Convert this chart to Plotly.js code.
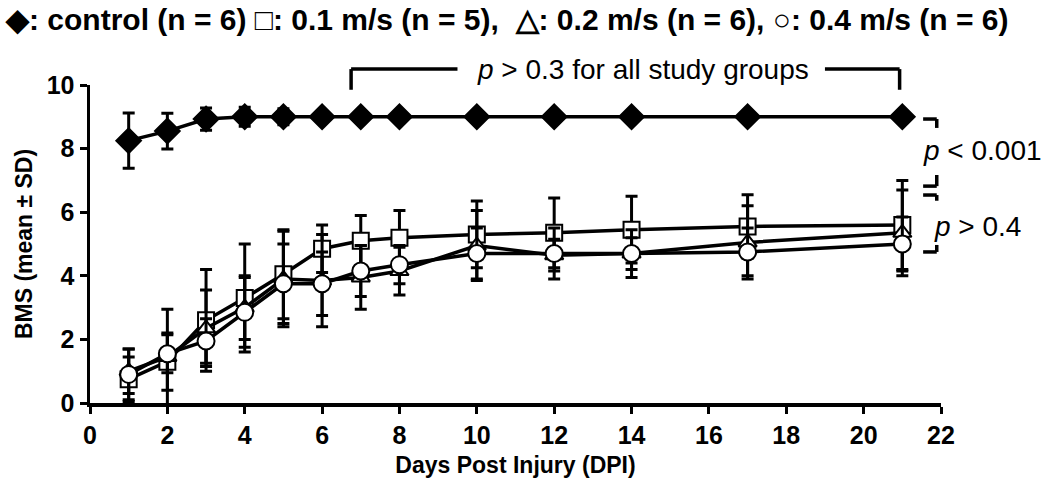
<!DOCTYPE html>
<html><head><meta charset="utf-8">
<script src="https://cdn.plot.ly/plotly-3.0.1.min.js"></script>
<style>body{margin:0;background:#fff}#chart{width:1043px;height:482px}</style>
</head><body><div id="chart"></div>
<script>
const days = [1,2,3,4,5,6,7,8,10,12,14,17,21];
const controlMean = [8.25,8.55,8.93,9.0,9.0,9.0,9,9,9,9,9,9,9];
const controlSD   = [0.87,0.56,0.35,0.3,0.25,0.15,0,0,0,0,0,0,0];
const v01Mean = [0.75,1.3,2.6,3.3,4.05,4.85,5.1,5.2,5.3,5.35,5.45,5.55,5.6];
const v01SD   = [0.7,0.9,1.6,1.7,1.4,0.75,0.8,0.85,1.05,1.1,1.05,1.0,1.4];
const v02Mean = [1.0,1.45,2.35,3.0,3.9,3.85,3.95,4.15,4.95,4.65,4.7,5.05,5.35];
const v02SD   = [0.7,1.5,1.2,1.0,1.5,1.45,1.0,0.75,1.1,0.5,0.5,1.15,1.35];
const v04Mean = [0.9,1.55,1.95,2.85,3.75,3.75,4.15,4.35,4.7,4.7,4.7,4.75,5.0];
const v04SD   = [0.8,0.6,0.7,1.1,1.25,1.0,0.8,0.6,0.8,0.8,0.75,0.75,0.85];
const groupNames = ['control (n = 6)','0.1 m/s (n = 5)','0.2 m/s (n = 6)','0.4 m/s (n = 6)'];
const xTicks = [0,2,4,6,8,10,12,14,16,18,20,22];
const yTicks = [0,2,4,6,8,10];
const pTop = 'p > 0.3 for all study groups';
const pCtrl = 'p < 0.001';
const pGroups = 'p > 0.4';

const BOLD = '"Liberation Sans", Arial, sans-serif';
const REG = '"Liberation Sans", Arial, sans-serif';

function trace(y, sd, symbol, fill, size, name){
  return {x: days, y: y, name: name, type:'scatter', mode:'lines+markers',
    line:{color:'#000', width:3.5},
    marker:{symbol:symbol, size:size, color:fill, line:{color:'#000', width:2}},
    error_y:{type:'data', array: sd, visible:true, color:'#000', thickness:3, width:6},
    cliponaxis:false, showlegend:false};
}
const data = [
  trace(v01Mean, v01SD, 'square', '#fff', 16, groupNames[1]),
  trace(v02Mean, v02SD, 'triangle-up', '#fff', 16, groupNames[2]),
  trace(v04Mean, v04SD, 'circle', '#fff', 17, groupNames[3]),
  trace(controlMean, controlSD, 'diamond', '#000', 19, groupNames[0])
];

const legendText = '◆: ' + groupNames[0] + ' □: ' + groupNames[1] + ',\u00a0\u00a0△: ' + groupNames[2] + ', ○: ' + groupNames[3];
function italicP(s){ return s.replace(/^p/, '<i>p</i>'); }

const ln = {color:'#000', width:3.5};
const shapes = [
  // top bracket
  {type:'line', xref:'x', yref:'paper', x0:6.75, x1:6.75, y0:0.985, y1:1.05, line:ln},
  {type:'line', xref:'x', yref:'paper', x0:6.75, x1:9.5, y0:1.05, y1:1.05, line:ln},
  {type:'line', xref:'x', yref:'paper', x0:19.0, x1:20.93, y0:1.05, y1:1.05, line:ln},
  {type:'line', xref:'x', yref:'paper', x0:20.93, x1:20.93, y0:0.985, y1:1.05, line:ln},
  // right brackets (p<0.001)
  {type:'line', xref:'paper', yref:'y', x0:0.995, x1:0.995, y0:8.65, y1:8.93, line:ln},
  {type:'line', xref:'paper', yref:'y', x0:0.979, x1:0.995, y0:8.93, y1:8.93, line:ln},
  {type:'line', xref:'paper', yref:'y', x0:0.995, x1:0.995, y0:6.82, y1:7.17, line:ln},
  {type:'line', xref:'paper', yref:'y', x0:0.979, x1:0.995, y0:6.82, y1:6.82, line:ln},
  // p>0.4
  {type:'line', xref:'paper', yref:'y', x0:0.979, x1:0.995, y0:6.54, y1:6.54, line:ln},
  {type:'line', xref:'paper', yref:'y', x0:0.995, x1:0.995, y0:6.36, y1:6.54, line:ln},
  {type:'line', xref:'paper', yref:'y', x0:0.995, x1:0.995, y0:4.75, y1:4.97, line:ln},
  {type:'line', xref:'paper', yref:'y', x0:0.979, x1:0.995, y0:4.75, y1:4.75, line:ln}
];

const annotations = [
  {text: legendText, xref:'paper', yref:'paper', x:-0.102, y:1.205, xanchor:'left', yanchor:'middle', showarrow:false,
   font:{family:BOLD, size:30, color:'#000', weight:'bold'}},
  {text: italicP(pTop), xref:'x', yref:'paper', x:14.3, y:1.05, xanchor:'center', yanchor:'middle', showarrow:false,
   font:{family:REG, size:28, color:'#000'}},
  {text: italicP(pCtrl), xref:'paper', yref:'y', x:0.976, y:7.95, xanchor:'left', yanchor:'middle', showarrow:false,
   font:{family:REG, size:28, color:'#000'}},
  {text: italicP(pGroups), xref:'paper', yref:'y', x:0.99, y:5.55, xanchor:'left', yanchor:'middle', showarrow:false,
   font:{family:REG, size:28, color:'#000'}}
];

const layout = {
  width:1043, height:482,
  margin:{l:90, r:102, t:85, b:79, pad:0},
  paper_bgcolor:'#fff', plot_bgcolor:'#fff',
  font:{family:BOLD, color:'#000'},
  xaxis:{range:[0,22], tickvals:xTicks, ticktext:xTicks.map(String), showgrid:false, zeroline:false,
    showline:true, linecolor:'#000', linewidth:3.5, ticks:'outside', ticklen:7, tickwidth:3, tickcolor:'#000',
    tickfont:{family:BOLD, size:25, weight:'bold'},
    title:{text:'Days Post Injury (DPI)', font:{family:BOLD, size:23, weight:'bold'}, standoff:10}},
  yaxis:{range:[0,10], tickvals:yTicks, ticktext:yTicks.map(String), showgrid:false, zeroline:false,
    showline:true, linecolor:'#000', linewidth:3.5, ticks:'outside', ticklen:7, tickwidth:3, tickcolor:'#000',
    tickfont:{family:BOLD, size:25, weight:'bold'},
    title:{text:'BMS (mean ± SD)', font:{family:BOLD, size:23, weight:'bold'}, standoff:8}},
  shapes: shapes,
  annotations: annotations,
  showlegend:false
};
Plotly.newPlot('chart', data, layout, {displayModeBar:false, staticPlot:true});
</script></body></html>
